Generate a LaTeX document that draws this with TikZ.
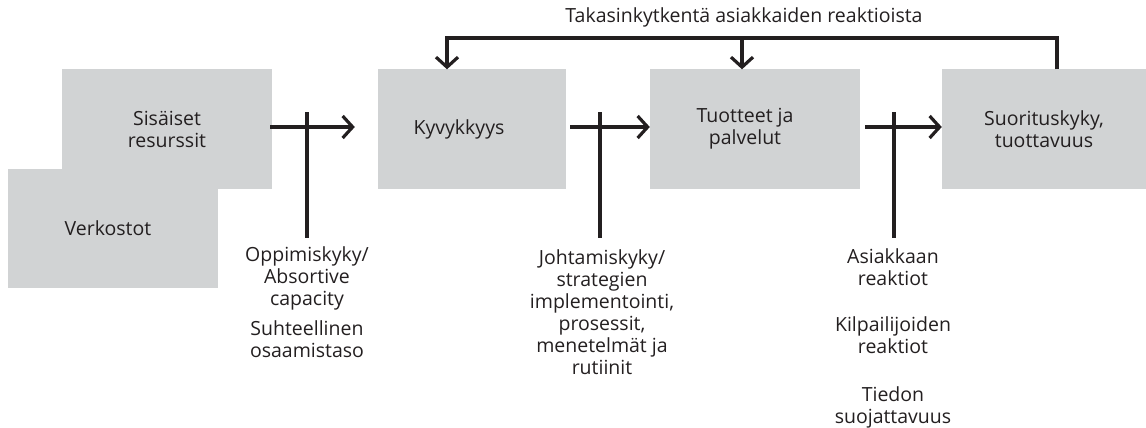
\documentclass[tikz,border=0pt]{standalone}
\usepackage{fontspec}
\setmainfont{Open Sans}
\usetikzlibrary{arrows.meta}
\definecolor{boxgray}{HTML}{D1D3D4}
\definecolor{ink}{HTML}{231F20}
\tikzset{
  box/.style={fill=boxgray, draw=none, minimum width=#1, minimum height=119pt, inner sep=0pt, align=center, text=ink},
  box/.default=210pt,
  lbl/.style={align=center, text=ink, inner sep=0pt, anchor=north},
  conn/.style={draw=ink, line width=3.2pt},
  arr/.style={conn, -{Straight Barb[length=10pt,width=22pt,line width=3.2pt]}},
}
\begin{document}
\begin{tikzpicture}[x=1pt,y=-1pt, font=\fontsize{19.5}{22}\selectfont]
\useasboundingbox (0,0) rectangle (1146,428);
% boxes
\node[box] (sis) at (167,129) {Sisäiset\\resurssit};
\node[box] (ver) at (113,228) {\hspace*{-10pt}Verkostot};
\node[box=188pt] (kyv) at (472,129) {\hspace*{-26pt}Kyvykkyys};
\node[box] (tuo) at (755,129) {\hspace*{-20pt}Tuotteet ja\\\hspace*{-20pt}palvelut};
\node[box=204pt] (suo) at (1044,129) {Suorituskyky,\\tuottavuus};
% labels below
\node[lbl] (l1) at (307,246) {Oppimiskyky/\\Absortive\\capacity};
\node[lbl] (l1b) at (307,320) {Suhteellinen\\osaamistaso};
\node[lbl] (l2) at (602,249) {Johtamiskyky/\\strategien\\implementointi,\\prosessit,\\menetelmät ja\\rutiinit};
\node[lbl] (l3) at (893,248) {Asiakkaan\\reaktiot};
\node[lbl] (l3b) at (893,316) {Kilpailijoiden\\reaktiot};
\node[lbl] (l3c) at (893,386) {Tiedon\\suojattavuus};
\node[text=ink, inner sep=0pt] (fb) at (744,17) {Takasinkytkentä asiakkaiden reaktioista};
% horizontal arrows
\draw[arr, shorten <=-2pt, shorten >=23pt] (sis.east |- 0,127) -- (kyv.west |- 0,127);
\draw[arr, shorten <=4pt] (kyv.east |- 0,127) -- (tuo.west |- 0,127);
\draw[arr, shorten <=5pt] (tuo.east |- 0,127) -- (suo.west |- 0,127);
% vertical bars
\coordinate (t1) at (307,112);
\coordinate (t2) at (600,112);
\coordinate (t3) at (894,112);
\draw[conn] (t1) -- (t1 |- 0,238);
\draw[conn] (t2) -- (t2 |- 0,238);
\draw[conn] (t3) -- (t3 |- 0,238);
% feedback
\coordinate (fr) at (1057,38);
\coordinate (fl) at (447,38);
\coordinate (fm) at (742,38);
\draw[arr, line join=miter] (suo.north -| fr) -- (fr) -- (fl) -- (kyv.north -| fl);
\draw[arr] (fm) -- (tuo.north -| fm);
\end{tikzpicture}
\end{document}
